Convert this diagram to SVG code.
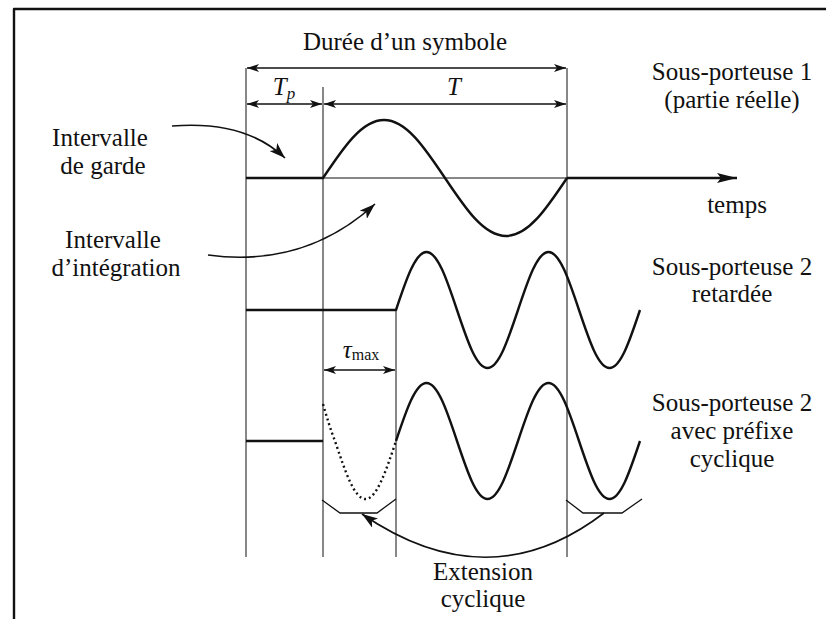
<svg xmlns="http://www.w3.org/2000/svg" width="826" height="619" viewBox="0 0 826 619">
<style>
text{font-family:"Liberation Serif","Times New Roman",serif;fill:#111;font-size:25px;text-anchor:middle}
.it{font-style:italic}
.thin{stroke:#111;stroke-width:1;fill:none}
.sig{stroke:#111;stroke-width:2.4;fill:none;stroke-linejoin:round}
.dim{stroke:#111;stroke-width:1.3;fill:none}
.arc{stroke:#111;stroke-width:1.6;fill:none}
</style>
<defs>
<marker id="ah" viewBox="0 0 12 8" refX="12" refY="4" markerWidth="12" markerHeight="8" markerUnits="userSpaceOnUse" orient="auto-start-reverse"><path d="M0,0 L12,4 L0,8 L3,4 Z" fill="#111"/></marker>
<marker id="big" viewBox="0 0 16 11" refX="16" refY="5.5" markerWidth="16" markerHeight="11" markerUnits="userSpaceOnUse" orient="auto"><path d="M0,0 L16,5.5 L0,11 L4,5.5 Z" fill="#111"/></marker>
<marker id="axh" viewBox="0 0 20 10" refX="20" refY="5" markerWidth="20" markerHeight="10" markerUnits="userSpaceOnUse" orient="auto"><path d="M0,0 L20,5 L0,10 L4,5 Z" fill="#111"/></marker>
</defs>
<rect width="826" height="619" fill="#fff"/>
<g id="frame"><path class="sig" d="M14,619 L14,9 L826,9" stroke-width="2"/></g>
<g id="grid">
<line class="thin" x1="246" y1="68" x2="246" y2="557"/>
<line class="thin" x1="323" y1="87" x2="323" y2="557"/>
<line class="thin" x1="396" y1="310" x2="396" y2="557"/>
<line class="thin" x1="567" y1="68" x2="567" y2="557"/>
</g>
<g id="connectors">
<line class="dim" x1="247" y1="68" x2="566" y2="68" marker-start="url(#ah)" marker-end="url(#ah)"/>
<line class="dim" x1="247" y1="104" x2="322" y2="104" marker-start="url(#ah)" marker-end="url(#ah)"/>
<line class="dim" x1="324" y1="104" x2="566" y2="104" marker-start="url(#ah)" marker-end="url(#ah)"/>
<line class="dim" x1="324" y1="370" x2="395" y2="370" marker-start="url(#ah)" marker-end="url(#ah)"/>
<path class="arc" d="M172,126 Q245,120 285,158" marker-end="url(#big)"/>
<path class="arc" d="M208,255 Q305,268 375,204" marker-end="url(#big)"/>
<path class="arc" d="M604,513 Q489,601 362,514" marker-end="url(#big)"/>
<line class="thin" x1="323" y1="178" x2="567" y2="178"/>
<line class="sig" x1="567" y1="178" x2="737" y2="178" stroke-width="2" marker-end="url(#axh)"/>
</g>
<g id="signal1">
<path class="sig" d="M246,178 L323,178 C343.4,147.5 361.8,120 384,120 C406.2,120 424.6,147.5 445,178 C465.4,208.5 483.8,236 506,236 C528.2,236 546.6,208.5 567,178"/>
</g>
<g id="signal2">
<path class="sig" d="M246,310 L396,310 C406.2,279.5 415.4,252 426.5,252 C437.6,252 446.8,279.5 457,310 C467.2,340.5 476.4,368 487.5,368 C498.6,368 507.8,340.5 518,310 C528.2,279.5 537.4,252 548.5,252 C559.6,252 568.8,279.5 579,310 C589.2,340.5 598.4,368 609.5,368 C620.6,368 629.8,340.5 640,310"/>
</g>
<g id="signal3">
<path class="sig" d="M246,441 L323,441"/>
<path class="sig" stroke-width="2" stroke-dasharray="2 3" d="M323,404 C327,418 331,431 335,441 C345.2,471.5 354.4,499 365.5,499 C376.6,499 385.8,471.5 396,441"/>
<path class="sig" d="M396,441 C406.2,410.5 415.4,383 426.5,383 C437.6,383 446.8,410.5 457,441 C467.2,471.5 476.4,499 487.5,499 C498.6,499 507.8,471.5 518,441 C528.2,410.5 537.4,383 548.5,383 C559.6,383 568.8,410.5 579,441 C589.2,471.5 598.4,499 609.5,499 C620.6,499 629.8,471.5 640,441"/>
<path class="dim" stroke-width="1.6" d="M322,500 L340,513 L377,513 L396,499"/>
<path class="dim" stroke-width="1.6" d="M566,500 L583,513 L622,513 L642,499"/>
</g>
<g id="label-duree"><text x="405" y="50">Durée d’un symbole</text></g>
<g id="label-tp"><text x="284" y="95" class="it" font-size="24">T<tspan font-size="17" dy="4">p</tspan></text></g>
<g id="label-t"><text x="454" y="95" class="it" font-size="24">T</text></g>
<g id="label-tau"><text x="361" y="358" font-size="22"><tspan class="it">τ</tspan><tspan font-size="16" dy="2">max</tspan></text></g>
<g id="label-sp1"><text x="732" y="80">Sous-porteuse 1</text><text x="732" y="108">(partie réelle)</text></g>
<g id="label-temps"><text x="737" y="213">temps</text></g>
<g id="label-sp2"><text x="732" y="275">Sous-porteuse 2</text><text x="732" y="302">retardée</text></g>
<g id="label-sp3"><text x="732" y="411">Sous-porteuse 2</text><text x="732" y="439">avec préfixe</text><text x="732" y="467">cyclique</text></g>
<g id="label-garde"><text x="100" y="146">Intervalle</text><text x="103" y="174">de garde</text></g>
<g id="label-integ"><text x="113" y="248">Intervalle</text><text x="116" y="276">d’intégration</text></g>
<g id="label-ext"><text x="483" y="580">Extension</text><text x="483" y="607">cyclique</text></g>
</svg>
